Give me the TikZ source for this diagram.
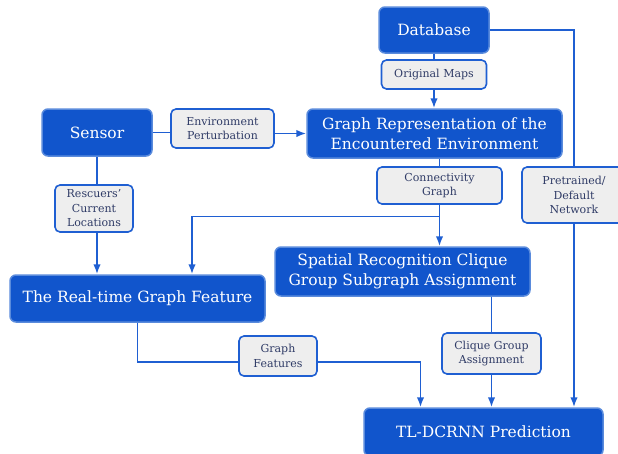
\documentclass[tikz,border=0pt]{standalone}
\usepackage{fontspec}
\setmainfont{DejaVu Serif}
\usetikzlibrary{arrows.meta}
\definecolor{boxblue}{HTML}{1155CC}
\definecolor{rimblue}{HTML}{5A8BDC}
\definecolor{lineblue}{HTML}{1F5FD2}
\definecolor{tagfill}{HTML}{EEEEEE}
\definecolor{tagtext}{HTML}{2F3B66}

\begin{document}
\begin{tikzpicture}[x=1pt,y=-1pt,
    bigbox/.style={rectangle,rounded corners=6pt,fill=boxblue,draw=rimblue,line width=1.5pt,
      text=white,align=center,inner sep=0pt,font=\fontsize{15.5}{19.5}\selectfont},
    tag/.style={rectangle,rounded corners=5pt,fill=tagfill,draw=lineblue,line width=1.6pt,
      text=tagtext,align=center,inner sep=0pt,font=\fontsize{11}{14.5}\selectfont},
    link/.style={draw=lineblue,line width=1.7pt},
    tip/.style={-{Latex[length=10pt,width=7.5pt]}}]
          \useasboundingbox (0,0) rectangle (618,453);
          % boxes
          \node[bigbox,minimum width=110,minimum height=46] (db) at (434,30) {Database};
          \node[bigbox,minimum width=110,minimum height=47] (sensor) at (97,132.5) {Sensor};
          \node[bigbox,minimum width=255,minimum height=49] (grep) at (434.5,133.5) {Graph Representation of the\\Encountered Environment};
          \node[bigbox,minimum width=255,minimum height=49] (spat) at (402.5,271.5) {Spatial Recognition Clique\\Group Subgraph Assignment};
          \node[bigbox,minimum width=255,minimum height=47] (rt) at (137.5,298.5) {The Real-time Graph Feature};
          \node[bigbox,minimum width=239,minimum height=48] (tl) at (483.5,432) {TL-DCRNN Prediction};
          % labels on the links
          \node[tag,minimum width=105,minimum height=29] (orig) at (434,74.5) {Original Maps};
          \node[tag,minimum width=103,minimum height=39] (env) at (222.5,128.5) {Environment\\Perturbation};
          \node[tag,minimum width=125,minimum height=37] (conn) at (439.5,185.5) {Connectivity\\Graph};
          \node[tag,minimum width=104,minimum height=56] (pre) at (574,195) {Pretrained/\\Default\\Network};
          \node[tag,minimum width=78,minimum height=47] (resc) at (94,208.5) {Rescuers'\\Current\\Locations};
          \node[tag,minimum width=78,minimum height=40] (gf) at (278,356) {Graph\\Features};
          \node[tag,minimum width=99,minimum height=41] (cga) at (491.5,353.5) {Clique Group\\Assignment};
          \coordinate (fork) at (439.5,216.5);
          % links
          \draw[link] (db) -- (orig);
          \draw[link,tip] (orig) -- (orig |- grep.north);
          \draw[link] (db.east) -| (pre.north);
          \draw[link,tip] (pre.south) -- (pre.south |- tl.north);
          \draw[link] (sensor.east) -- (sensor.east -| env.west);
          \draw[link,tip] (env.east |- grep.west) -- (grep.west);
          \draw[link] (sensor) -- (sensor |- resc.north);
          \draw[link,tip] (sensor |- resc.south) -- (sensor |- rt.north);
          \draw[link] (conn.north |- grep.south) -- (conn.north);
          \draw[link,tip] (conn.south) -- (conn.south |- spat.north);
          \draw[link,tip] (fork) -| ([xshift=54.5pt]rt.north);
          \draw[link] (rt.south) |- ([yshift=-6pt]gf.west);
          \draw[link,tip] ([yshift=-6pt]gf.east) -| ([xshift=-63pt]tl.north);
          \draw[link] (cga.north |- spat.south) -- (cga.north);
          \draw[link,tip] (cga.south) -- (cga.south |- tl.north);
        \end{tikzpicture}
\end{document}
